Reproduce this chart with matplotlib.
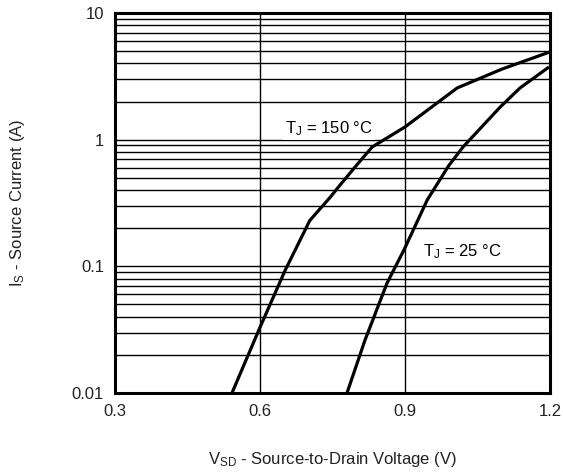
import matplotlib
matplotlib.use("Agg")
import matplotlib.pyplot as plt
from matplotlib.ticker import LogLocator, NullFormatter

plt.rcParams['font.family'] = ['Liberation Sans', 'DejaVu Sans']
plt.rcParams['mathtext.fontset'] = 'custom'
plt.rcParams['mathtext.rm'] = 'Liberation Sans'
plt.rcParams['mathtext.it'] = 'Liberation Sans'

# Data
v_150 = [0.542, 0.600, 0.652, 0.703, 0.745, 0.766, 0.800, 0.832, 0.900, 1.008, 1.100, 1.198]
i_150 = [0.010, 0.033, 0.093, 0.23, 0.35, 0.44, 0.63, 0.875, 1.26, 2.56, 3.6, 4.9]

v_25 = [0.780, 0.817, 0.863, 0.898, 0.946, 0.990, 1.020, 1.097, 1.138, 1.198]
i_25 = [0.010, 0.026, 0.074, 0.135, 0.334, 0.62, 0.875, 1.81, 2.56, 3.75]

x_ticks = [0.3, 0.6, 0.9, 1.2]
x_tick_labels = ["0.3", "0.6", "0.9", "1.2"]
y_ticks = [0.01, 0.1, 1, 10]
y_tick_labels = ["0.01", "0.1", "1", "10"]

fig = plt.figure(figsize=(5.63, 4.74), dpi=100)
ax = fig.add_axes([115/563, 1-393/474, 435/563, 380/474])

ax.set_yscale('log')
ax.set_xlim(0.3, 1.2)
ax.set_ylim(0.01, 10)

ax.plot(v_150, i_150, color='black', lw=2.3, solid_capstyle='butt', zorder=3)
ax.plot(v_25, i_25, color='black', lw=2.3, solid_capstyle='butt', zorder=3)

ax.set_xticks(x_ticks)
ax.set_xticklabels(x_tick_labels)
ax.set_yticks(y_ticks)
ax.set_yticklabels(y_tick_labels)
ax.yaxis.set_minor_locator(LogLocator(base=10, subs=range(2, 10)))
ax.yaxis.set_minor_formatter(NullFormatter())

ax.grid(True, which='major', axis='both', color='black', lw=1.0)
ax.grid(True, which='minor', axis='y', color='black', lw=1.0)
ax.tick_params(which='both', length=0, labelsize=12, pad=8, colors='#222222')

for s in ax.spines.values():
    s.set_linewidth(2.2)
    s.set_color('black')

ax.text(0.652, 1.22, r"$\mathregular{T_J}$ = 150 °C", fontsize=12, va='center', ha='left',
        bbox=dict(facecolor='white', edgecolor='none', pad=1.5), zorder=2)
ax.text(0.937, 0.13, r"$\mathregular{T_J}$ = 25 °C", fontsize=12, va='center', ha='left',
        bbox=dict(facecolor='white', edgecolor='none', pad=1.5), zorder=2)

ax.set_xlabel(r"$\mathregular{V_{SD}}$ - Source-to-Drain Voltage (V)", fontsize=12, labelpad=22, color='#222222')
ax.set_ylabel(r"$\mathregular{I_S}$ - Source Current (A)", fontsize=12, labelpad=32, color='#222222')

fig.savefig("out.png", dpi=100)
